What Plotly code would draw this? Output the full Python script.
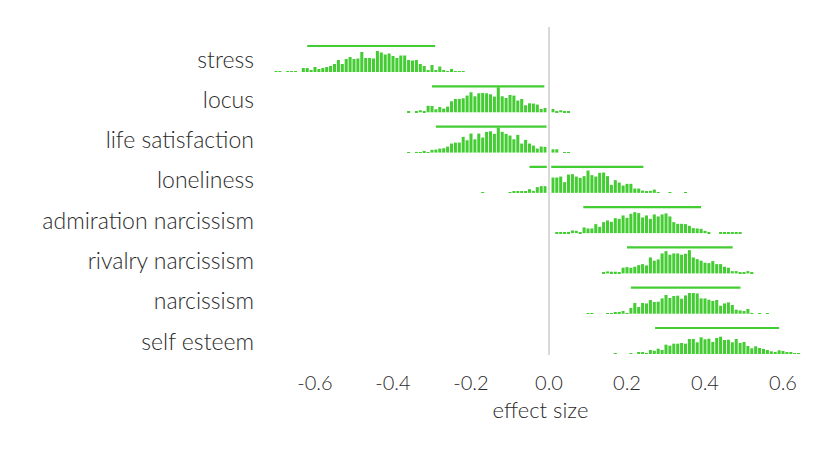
import plotly.graph_objects as go

categories = ["stress", "locus", "life satisfaction", "loneliness",
              "admiration narcissism", "rivalry narcissism", "narcissism", "self esteem"]

# first bin centre of each histogram (bins are 0.01 wide)
bin_start = [-0.70, -0.36, -0.36, -0.17, 0.02, 0.14, 0.10, 0.17]
bin_width = 0.01

# histogram heights (relative counts) per category
stress_h = [0.7, 0.7, 0, 0.7, 0.7, 0.5, 0, 4, 4, 2, 5, 3, 4, 5, 6, 8, 12, 8, 13, 15, 13, 13.5,
            20, 14, 14, 13.5, 21, 19.5, 17.5, 18.5, 16, 14, 16.5, 16.5, 12, 11.5, 12, 8, 6, 1.5,
            7, 2, 5.5, 2, 1, 3, 0.7, 0.7, 0.7]
locus_h = [0.4, 0, 0.5, 2, 0.7, 6.5, 6.3, 3, 5.3, 3.7, 5.7, 11, 13.3, 13.3, 14, 16.7, 20, 16,
           19, 19.3, 19, 18, 15.7, 25, 16, 14.3, 17.3, 16.7, 11.7, 13.3, 7, 9, 8.7, 7.7, 3.3,
           4.3, 4, 3.3, 1.3, 2, 0.4, 0.4]
lifesat_h = [0.5, 0, 0.5, 0.5, 1, 0.3, 2.7, 3, 4, 4.3, 6, 9, 10, 10, 15.7, 12.3, 19, 13.3, 19,
             15, 20.7, 21.3, 18.7, 25, 20.7, 18.7, 17, 13.3, 17.7, 9, 12.7, 9, 7, 4, 6, 5.7,
             4, 3.3, 3.3, 0, 0.5, 0.5]
lonely_h = [0.5, 0, 0, 0, 0, 0, 0, 0.5, 1, 1, 1, 1, 3.7, 2, 5.7, 6.7, 6.7, 10, 15.3, 15.3, 16.3,
            10.7, 18.3, 18.7, 16.3, 15, 16.7, 22.3, 17.7, 16.3, 20, 20.3, 16.7, 8, 12.7, 10.3,
            7.3, 9, 9, 4.3, 4.3, 2.3, 1.3, 2, 3.3, 0.7, 0, 0, 0.5, 0, 0, 0, 0.5]
admir_h = [0.7, 0.7, 0.7, 1, 2.7, 2.3, 0.7, 5.7, 4.7, 4.7, 9, 6.3, 11, 12.7, 11.3, 15, 14.3,
           17.7, 15.3, 19.3, 21, 20, 15.7, 17.7, 14.3, 18.7, 16.7, 18.7, 19.7, 16.7, 11, 9.3,
           9.3, 9, 7.3, 5, 4.7, 4.3, 2.3, 0.7, 0, 0, 0.5, 0.5, 0.5, 0.5, 0.5, 0.3]
rivalry_h = [0.5, 2, 1.7, 1.7, 0.7, 5.7, 6.3, 5.7, 6.7, 8.3, 9.3, 8, 16, 12.7, 14, 20, 22.3,
             18.7, 20, 20, 18.7, 19.7, 23.3, 16, 14.3, 12.7, 10.7, 10.3, 12.3, 9.3, 9.3, 6.7,
             5.7, 2.3, 2.3, 0.7, 1, 2.3, 0.7]
narc_h = [0.3, 0.3, 0, 0, 0, 0.3, 0.5, 1, 1.3, 2.7, 0.7, 5.7, 10.7, 6.7, 10.7, 10.3, 13.7, 11.7,
          12, 15.3, 18.7, 15.7, 17.7, 18, 15, 18.3, 20.7, 20.7, 20.3, 15.3, 15.3, 14, 12.7,
          13.7, 8, 10.3, 11.3, 8.7, 4, 3.3, 2.7, 4.7, 0.3, 0, 0.3, 0, 0.3]
selfest_h = [0.3, 0, 0, 0, 0.7, 0, 1.3, 1.3, 0.7, 4, 3.3, 5.3, 4, 9.3, 8.3, 10.3, 10.3, 11,
             10.3, 15, 15, 11.7, 16.7, 14.7, 15.3, 12, 16, 17.3, 14, 14.3, 11.7, 15, 11, 12, 8,
             5.7, 7.7, 6, 5, 4, 2.7, 1, 3.7, 3, 1, 1.3, 0.3, 0.3]

heights = [stress_h, locus_h, lifesat_h, lonely_h, admir_h, rivalry_h, narc_h, selfest_h]

# interval lines drawn above each histogram
ci_low = [-0.62, -0.30, -0.29, -0.05, 0.088, 0.20, 0.21, 0.272]
ci_high = [-0.292, -0.012, -0.006, 0.242, 0.39, 0.471, 0.491, 0.59]

x_ticks = [-0.6, -0.4, -0.2, 0.0, 0.2, 0.4, 0.6]
x_tick_text = ["-0.6", "-0.4", "-0.2", "0.0", "0.2", "0.4", "0.6"]

GREEN = "#44cc33"
ROW_PX = 40.28
FAMILY = "Lato, 'Open Sans', sans-serif"
TEXT = "#2a2a2a"

# page body has an 8px margin; plot area placed so that it lands at x 270..811, y 27..355
L, R, T, B = 262, 28, 19, 103

fig = go.Figure()
for i, h in enumerate(heights):
    xs = [round(bin_start[i] + k * bin_width, 4) for k in range(len(h))]
    ys = [v / ROW_PX for v in h]
    fig.add_trace(go.Bar(x=xs, y=ys, base=-i, width=0.0078, marker=dict(color=GREEN, line_width=0),
                         showlegend=False, hoverinfo="skip"))
    line_y = -i + 26 / ROW_PX
    fig.add_trace(go.Scatter(x=[ci_low[i], ci_high[i]], y=[line_y, line_y], mode="lines",
                             line=dict(color=GREEN, width=2.2), showlegend=False, hoverinfo="skip"))

# zero line with white halo
fig.add_shape(type="line", x0=0, x1=0, y0=0, y1=1, xref="x", yref="paper",
              line=dict(color="white", width=4.5), layer="above")
fig.add_shape(type="line", x0=0, x1=0, y0=0, y1=1, xref="x", yref="paper",
              line=dict(color="#cccccc", width=1.5), layer="above")

fig.update_layout(
    width=831, height=450,
    margin=dict(l=L, r=R, t=T, b=B),
    paper_bgcolor="white", plot_bgcolor="white",
    font=dict(family=FAMILY, size=20, color=TEXT, weight=300),
    barmode="overlay",
    xaxis=dict(range=[(270 - 549) / 390, (811 - 549) / 390], tickvals=x_ticks, ticktext=x_tick_text,
               showgrid=False, zeroline=False, showline=False, ticks="",
               ticklabelstandoff=14,
               tickfont=dict(family=FAMILY, size=20, color=TEXT, weight=300),
               title=dict(text="effect size", font=dict(family=FAMILY, size=22, color=TEXT, weight=300),
                          standoff=9)),
    yaxis=dict(range=[-7.025, 1.117], tickvals=[-i + 12.5 / ROW_PX for i in range(len(categories))],
               ticktext=categories, showgrid=False, zeroline=False, showline=False, ticks="",
               tickfont=dict(family=FAMILY, size=23, color=TEXT, weight=300),
               ticklabelstandoff=15),
)

fig.write_html("out.html")
